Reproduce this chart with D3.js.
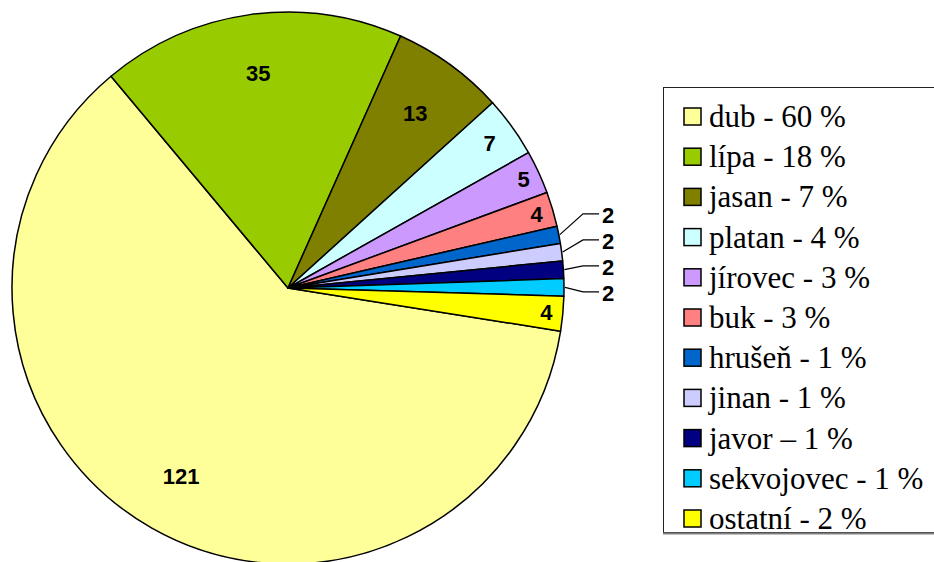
<!DOCTYPE html>
<html><head><meta charset="utf-8">
<script src="https://cdn.jsdelivr.net/npm/d3@7"></script>
</head><body style="margin:0;background:#fff">
<svg id="chart" width="934" height="562" style="display:block"></svg>
<script>
const categories = ["dub","lípa","jasan","platan","jírovec","buk","hrušeň","jinan","javor","sekvojovec","ostatní"];
const values = [121,35,13,7,5,4,2,2,2,2,4];
const legendLabels = ["dub - 60 %","lípa - 18 %","jasan - 7 %","platan - 4 %","jírovec - 3 %","buk - 3 %","hrušeň - 1 %","jinan - 1 %","javor – 1 %","sekvojovec - 1 %","ostatní - 2 %"];
const colors = ["#FFFF99","#99CC00","#808000","#CCFFFF","#CC99FF","#FF8080","#0066CC","#CCCCFF","#000080","#00CCFF","#FFFF00"];

const svg = d3.select("#chart");
const cx = 288, cy = 288, R = 276;
const startDeg = 99;
const color = d3.scaleOrdinal().domain(categories).range(colors);
const pie = d3.pie().sort(null).value(d => d.v)
  .startAngle(startDeg*Math.PI/180).endAngle((startDeg+360)*Math.PI/180);
const data = categories.map((c,i)=>({c, v: values[i]}));
const arcs = pie(data);
const arc = d3.arc().innerRadius(0).outerRadius(R);
const g = svg.append("g").attr("transform",`translate(${cx},${cy})`);
g.selectAll("path").data(arcs).join("path")
  .attr("d", arc).attr("fill", d => color(d.data.c))
  .attr("stroke","#000").attr("stroke-width",1.5).attr("stroke-linejoin","round");

function labStyle(sel){
  return sel.style("font-family",'"Liberation Sans"')
    .style("font-weight","bold").style("font-size","22px")
    .attr("text-anchor","middle").attr("dy","0.36em");
}
const inside = arcs.filter(d => d.data.v > 2);
const outside = arcs.filter(d => d.data.v <= 2);
function pt(a, r){ return [Math.sin(a)*r, -Math.cos(a)*r]; }
function labR(d){ const s=d.endAngle-d.startAngle; return R*(s>0.3?0.785:(s>0.2?0.90:0.94)); }
g.selectAll("text.in").data(inside).join("text")
  .attr("x", d => pt((d.startAngle+d.endAngle)/2, labR(d))[0])
  .attr("y", d => pt((d.startAngle+d.endAngle)/2, labR(d))[1])
  .call(labStyle)
  .text(d => d.data.v);

// outside labels with leader lines, spread vertically
const nat = outside.map(d => pt((d.startAngle+d.endAngle)/2, R+22)[1]);
const gap = 26;
const mean = d3.mean(nat) - 6;
const n = outside.length;
const ly = outside.map((d,i) => mean + (i-(n-1)/2)*gap);
const elbowX = 295, lineEndX = 311, textX = 320;
outside.forEach((d,i) => {
  const a = (d.startAngle+d.endAngle)/2;
  const p0 = pt(a, R+1);
  g.append("polyline")
    .attr("points", `${p0[0]},${p0[1]} ${elbowX},${ly[i]} ${lineEndX},${ly[i]}`)
    .attr("fill","none").attr("stroke","#000").attr("stroke-width",1.2);
  g.append("text").attr("x", textX).attr("y", ly[i]+1)
    .call(labStyle)
    .text(d.data.v);
});

// legend
const lx = 663, ly0 = 87, lh = 445;
svg.append("rect").attr("x",lx+0.5).attr("y",ly0+0.5).attr("width",300).attr("height",lh)
  .attr("fill","#fff").attr("stroke","#222").attr("stroke-width",1);
svg.append("line").attr("x1",lx).attr("x2",934).attr("y1",ly0+lh+1.5).attr("y2",ly0+lh+1.5)
  .attr("stroke","#808080").attr("stroke-width",2);
const rowY = d3.scalePoint().domain(categories).range([117, 519]);
categories.forEach((c,i) => {
  const y = rowY(c);
  svg.append("rect").attr("x",684).attr("y",y-9).attr("width",17).attr("height",17)
    .attr("fill",color(c)).attr("stroke","#000").attr("stroke-width",1.5);
  svg.append("text").attr("x",709).attr("y",y+10)
    .style("font-family",'"Liberation Serif"').style("font-size","31px")
    .text(legendLabels[i]);
});
</script>
</body></html>
